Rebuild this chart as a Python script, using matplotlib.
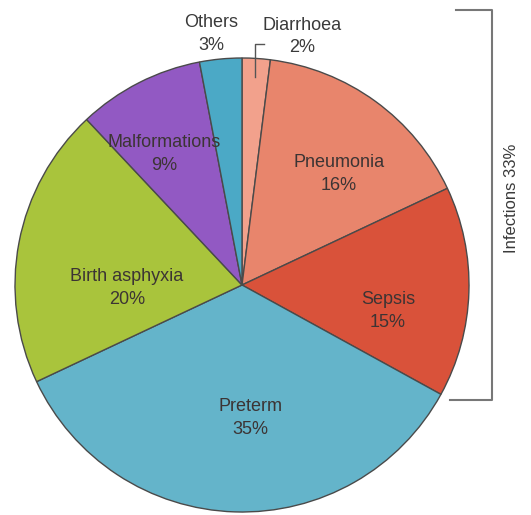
import matplotlib
matplotlib.use("Agg")
import matplotlib.pyplot as plt
import numpy as np

plt.rcParams['font.family'] = ['Liberation Sans', 'DejaVu Sans']

categories = ["Diarrhoea", "Pneumonia", "Sepsis", "Preterm", "Birth asphyxia", "Malformations", "Others"]
values = [2, 16, 15, 35, 20, 9, 3]
colors = ["#f2a18c", "#e8856c", "#d9523a", "#64b4ca", "#a9c43c", "#9259c3", "#4ba9c6"]
infection_total = 33

W, H = 531, 515
fig = plt.figure(figsize=(W / 100, H / 100), dpi=100)
ax = fig.add_axes([0, 0, 1, 1])

cx, cy, R = 242, H - 285, 227
wedges, _ = ax.pie(values, colors=colors, startangle=90, counterclock=False,
                   center=(cx, cy), radius=R, frame=True,
                   wedgeprops=dict(edgecolor="#4a4a4a", linewidth=1.0))
ax.set_xlim(0, W)
ax.set_ylim(0, H)
ax.set_aspect("equal")
ax.axis("off")

FS = 13
TXT = "#3c3434"
LS = 1.4

# inside labels (pixel positions measured from top)
inside_pos = {
    "Pneumonia": (339, 174),
    "Sepsis": (388, 311),
    "Preterm": (250, 418),
    "Birth asphyxia": (127, 288),
    "Malformations": (164, 154),
}
for cat, val in zip(categories, values):
    if cat in inside_pos:
        x, y = inside_pos[cat]
        ax.text(x, H - y, f"{cat}\n{val}%", ha="center", va="center",
                fontsize=FS, color=TXT, linespacing=LS)

# outside labels
ax.text(211, H - 34, f"Others\n{values[6]}%", ha="center", va="center",
        fontsize=FS, color="#3a3a3a", linespacing=LS)
ax.text(302, H - 26, "Diarrhoea", ha="center", va="center", fontsize=FS, color="#3a3a3a")
ax.text(302, H - 47, f"{values[0]}%", ha="center", va="center", fontsize=FS, color="#3a3a3a")

# diarrhoea leader line
theta = np.deg2rad(90 - values[0] / 2 * 3.6)
lx = cx + 0.92 * R * np.cos(theta)
ly = cy + 0.92 * R * np.sin(theta)
ax.plot([lx, lx, lx + 9], [ly, H - 44, H - 44], color="#555555", lw=1.0)

# infections bracket
ax.plot([456, 492, 492, 450], [H - 10, H - 10, H - 400, H - 400], color="#777777", lw=1.5)
ax.text(512, H - 198, f"Infections {infection_total}%", rotation=90, ha="center", va="center",
        fontsize=12, color="#3a3a3a")

fig.savefig("out.png", dpi=100)
